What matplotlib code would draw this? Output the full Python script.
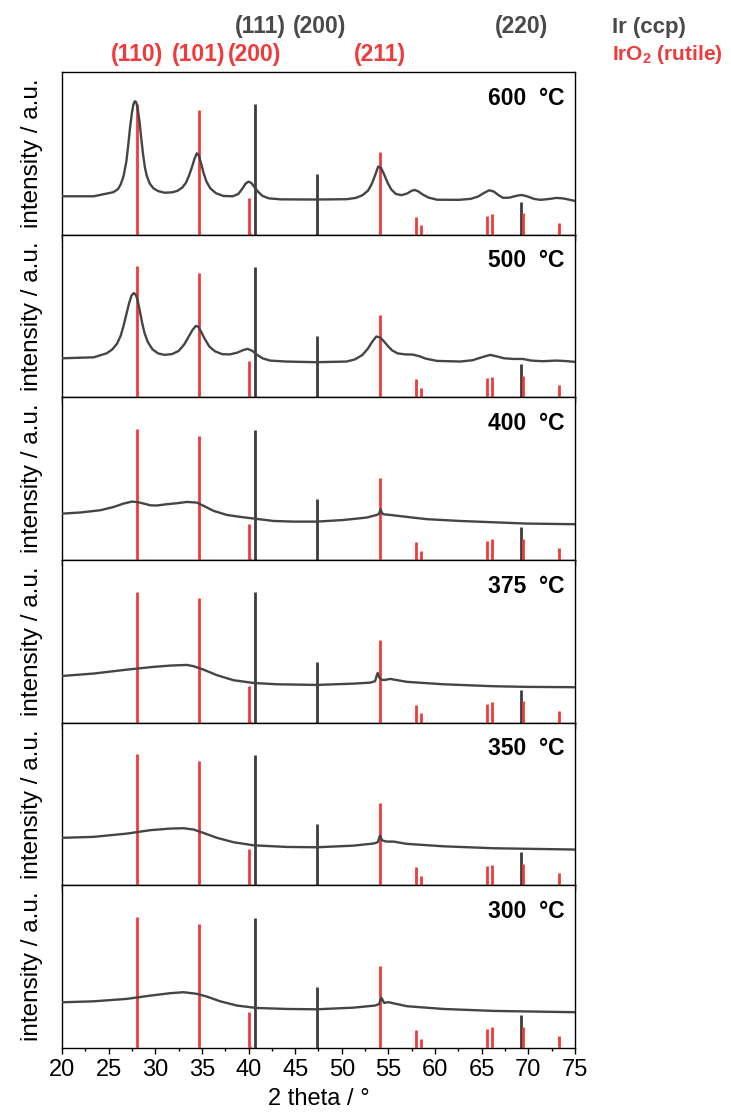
import matplotlib
matplotlib.use("Agg")
import matplotlib.pyplot as plt
from matplotlib.ticker import MultipleLocator

plt.rcParams['font.family'] = ['Liberation Sans', 'DejaVu Sans']
plt.rcParams['mathtext.fontset'] = 'custom'
plt.rcParams['mathtext.rm'] = 'Liberation Sans'
plt.rcParams['mathtext.bf'] = 'Liberation Sans:bold'

# ---- reference patterns (2theta, relative intensity) ----
iro2_pos = [28.04, 34.68, 40.04, 40.2, 54.04, 57.96, 58.50, 65.57, 66.10, 69.39, 73.29]
iro2_int = [80.5, 76.4, 22.4, 1.0, 50.7, 11.1, 5.7, 11.7, 12.7, 13.1, 7.4]
ir_pos = [40.71, 47.36, 69.22]
ir_int = [80.1, 37.4, 20.3]

iro2_hkl = ['(110)', '(101)', '(200)', '(211)']
iro2_hkl_x = [28.04, 34.68, 40.6, 54.04]
ir_hkl = ['(111)', '(200)', '(220)']
ir_hkl_x = [41.3, 47.6, 69.22]

temps = ['600  °C', '500  °C', '400  °C', '375  °C', '350  °C', '300  °C']

# ---- measured patterns ----
x600 = [20.0, 23.4, 25.5, 26.0, 26.3, 26.6, 26.9, 27.1, 27.3, 27.5, 27.65, 27.8, 27.95, 28.1, 28.3,
        28.5, 28.7, 28.9, 29.1, 29.4, 29.8, 30.3, 31.0, 31.8, 32.4, 32.9, 33.3, 33.6, 33.9, 34.2,
        34.45, 34.65, 34.9, 35.2, 35.5, 35.9, 36.5, 37.3, 38.3, 38.9, 39.3, 39.7, 40.0, 40.3, 40.6,
        41.0, 41.5, 42.2, 43.5, 47.0, 50.5, 51.5, 52.2, 52.8, 53.2, 53.6, 53.9, 54.2, 54.5, 54.9,
        55.3, 55.8, 56.4, 57.0, 57.5, 57.8, 58.2, 58.7, 59.3, 60.2, 62.5, 63.8, 64.6, 65.2, 65.8,
        66.3, 66.8, 67.3, 68.0, 68.8, 69.3, 69.9, 70.6, 71.3, 72.3, 73.0, 73.7, 74.4, 75.0]
y600 = [23.6, 23.6, 26.1, 28.0, 31.0, 36.0, 45.0, 55.0, 66.0, 75.0, 80.0, 82.0, 81.5, 78.0, 70.0,
        59.0, 49.0, 41.0, 36.0, 31.5, 28.5, 26.8, 25.8, 26.0, 27.0, 29.0, 32.0, 36.0, 41.0, 46.5,
        50.0, 49.0, 44.0, 37.5, 32.5, 28.5, 25.5, 23.8, 23.6, 25.0, 28.0, 31.5, 32.6, 31.8, 29.5,
        26.5, 23.8, 22.3, 21.7, 21.6, 21.8, 22.6, 24.2, 27.0, 31.0, 37.0, 41.9, 41.0, 37.5, 32.0,
        27.8, 25.0, 24.3, 25.3, 27.0, 27.5, 26.6, 24.6, 22.8, 21.5, 21.4, 22.0, 23.4, 25.5, 27.3,
        26.5, 24.3, 22.6, 22.8, 24.0, 24.4, 23.5, 22.0, 21.4, 22.0, 22.6, 22.3, 21.5, 20.7]

x500 = [20.0, 23.4, 24.8, 25.4, 25.9, 26.3, 26.6, 26.9, 27.2, 27.45, 27.7, 27.9, 28.1, 28.35, 28.6,
        28.85, 29.2, 29.7, 30.3, 31.0, 31.8, 32.5, 33.1, 33.6, 34.0, 34.35, 34.6, 34.9, 35.3, 35.8,
        36.4, 37.2, 38.0, 38.8, 39.4, 39.9, 40.4, 40.9, 41.5, 42.3, 44.0, 47.3, 50.5, 51.4, 52.2,
        52.8, 53.3, 53.7, 54.1, 54.5, 54.9, 55.4, 56.0, 56.8, 57.6, 58.3, 59.0, 60.2, 62.7, 64.0,
        65.0, 65.9, 66.6, 67.4, 68.4, 69.4, 70.3, 71.5, 73.0, 74.0, 75.0]
y500 = [24.0, 24.6, 27.1, 29.5, 33.0, 38.0, 44.0, 51.0, 58.0, 62.5, 64.1, 63.2, 60.0, 53.0, 45.5,
        39.5, 34.0, 29.5, 27.0, 26.1, 26.6, 28.5, 32.5, 37.5, 41.5, 43.9, 43.5, 40.5, 36.0, 31.2,
        28.3, 26.5, 26.4, 27.5, 29.0, 29.8, 28.6, 26.2, 24.0, 22.6, 22.0, 21.6, 22.0, 23.3, 26.0,
        30.0, 34.5, 37.4, 36.8, 34.5, 31.8, 28.8, 27.0, 26.4, 26.3, 25.3, 23.8, 22.4, 22.0, 22.8,
        24.6, 26.1, 25.2, 24.0, 23.6, 23.6, 22.6, 22.2, 22.6, 22.3, 21.8]

x400 = [20.0, 21.96, 24.11, 25.54, 26.61, 27.5, 28.2, 28.75, 29.5, 30.18, 31.25, 32.32, 33.39,
        34.46, 35.18, 36.25, 37.68, 39.11, 40.54, 42.68, 44.82, 47.32, 50.18, 52.68, 53.75, 54.0,
        54.15, 54.3, 54.45, 55.18, 56.96, 59.11, 62.68, 66.25, 69.82, 75.0]
y400 = [28.5, 29.2, 30.6, 32.6, 34.7, 35.9, 35.5, 34.7, 33.6, 33.5, 34.3, 34.9, 35.7,
        35.3, 33.3, 30.2, 27.7, 26.5, 25.5, 24.0, 23.6, 23.6, 24.6, 26.1, 27.7, 28.5,
        31.2, 29.0, 28.1, 27.7, 26.5, 25.1, 24.0, 23.2, 22.4, 22.0]

x375 = [20.0, 23.39, 26.96, 29.82, 31.61, 33.39, 34.11, 35.18, 36.61, 38.39, 40.54, 43.04, 47.32,
        51.25, 53.04, 53.57, 53.72, 53.85, 54.04, 54.3, 54.64, 55.18, 56.96, 60.89, 66.25, 69.82,
        75.0]
y375 = [28.7, 30.2, 32.6, 34.3, 35.1, 35.5, 34.7, 32.6, 29.2, 26.1, 24.4, 23.6, 23.2,
        24.0, 24.6, 25.5, 28.5, 30.6, 27.5, 26.3, 26.3, 26.9, 25.1, 23.6, 22.4, 22.0, 21.8]

x350 = [20.0, 23.39, 26.96, 29.46, 31.61, 33.04, 34.11, 35.18, 36.61, 38.39, 40.54, 44.11, 47.32,
        51.25, 53.39, 53.85, 54.0, 54.1, 54.32, 54.8, 55.54, 56.96, 60.89, 66.25, 75.0]
y350 = [29.2, 29.8, 31.8, 33.9, 34.9, 35.1, 34.3, 32.2, 29.2, 26.5, 24.6, 23.6, 23.4,
        24.4, 25.7, 26.5, 29.0, 30.6, 27.6, 26.9, 26.9, 25.5, 24.0, 22.8, 22.0]

x300 = [20.0, 23.39, 26.96, 29.46, 31.61, 33.04, 34.46, 35.54, 36.96, 38.75, 40.89, 44.11, 47.32,
        51.25, 53.57, 54.0, 54.15, 54.25, 54.54, 55.0, 55.36, 56.96, 60.89, 66.25, 75.0]
y300 = [28.1, 28.7, 30.2, 32.2, 33.7, 34.3, 33.3, 31.6, 28.7, 26.1, 24.6, 24.0, 23.8,
        24.8, 26.1, 27.0, 29.5, 30.8, 27.7, 28.2, 27.7, 25.7, 24.0, 22.8, 22.0]

xs = [x600, x500, x400, x375, x350, x300]
ys = [y600, y500, y400, y375, y350, y300]

RED = '#EE3B3B'
GREY = '#3C3C3C'
LINE = '#454545'
FS = 16.5

W, H = 731, 1113
fig = plt.figure(figsize=(W / 100, H / 100), dpi=100)

left = 62 / W
width = (575 - 62) / W
top = 1 - 72 / H
bottom = 1 - 1048 / H
ph = (top - bottom) / 6

axes = []
for i in range(6):
    ax = fig.add_axes([left, top - (i + 1) * ph, width, ph])
    axes.append(ax)
    ax.vlines(ir_pos, 0, ir_int, color=GREY, lw=2.0, zorder=2)
    ax.vlines(iro2_pos, 0, iro2_int, color=RED, lw=2.0, zorder=3)
    ax.plot(xs[i], ys[i], color=LINE, lw=1.7, zorder=4, solid_joinstyle='round')
    ax.set_xlim(20, 75)
    ax.set_ylim(0, 100)
    ax.set_yticks([])
    ax.xaxis.set_major_locator(MultipleLocator(5))
    ax.xaxis.set_minor_locator(MultipleLocator(2.5))
    ax.tick_params(axis='x', which='major', direction='out', length=4, width=1,
                   labelsize=FS + 0.5, pad=4)
    ax.tick_params(axis='x', which='minor', direction='out', length=2.5, width=1)
    if i < 5:
        ax.tick_params(axis='x', labelbottom=False)
    for s in ax.spines.values():
        s.set_linewidth(1.0)
        s.set_color('black')
    ax.set_ylabel('intensity / a.u.', fontsize=FS + 1, labelpad=14)
    ax.text(0.98, 0.84, temps[i], transform=ax.transAxes, ha='right', va='center',
            fontsize=FS, fontweight='bold')

axes[-1].set_xlabel('2 theta / °', fontsize=FS + 0.5, labelpad=5)

# hkl labels on top
ax0 = axes[0]
for lab, xv in zip(ir_hkl, ir_hkl_x):
    ax0.annotate(lab, xy=(xv, 1), xycoords=('data', 'axes fraction'),
                 xytext=(0, 32.5), textcoords='offset points', ha='center', va='center',
                 fontsize=FS, fontweight='bold', color='#4A4A4A', annotation_clip=False)
for lab, xv in zip(iro2_hkl, iro2_hkl_x):
    ax0.annotate(lab, xy=(xv, 1), xycoords=('data', 'axes fraction'),
                 xytext=(0, 12.5), textcoords='offset points', ha='center', va='center',
                 fontsize=FS, fontweight='bold', color=RED, annotation_clip=False)
fig.text(612 / W, 1 - 27 / H, 'Ir (ccp)', ha='left', va='center', fontsize=FS - 0.5,
         fontweight='bold', color='#4A4A4A')
fig.text(612 / W, 1 - 55 / H, 'IrO$_\\mathbf{2}$ (rutile)', ha='left', va='center',
         fontsize=15, fontweight='bold', color=RED)

fig.savefig('out.png', dpi=100)
